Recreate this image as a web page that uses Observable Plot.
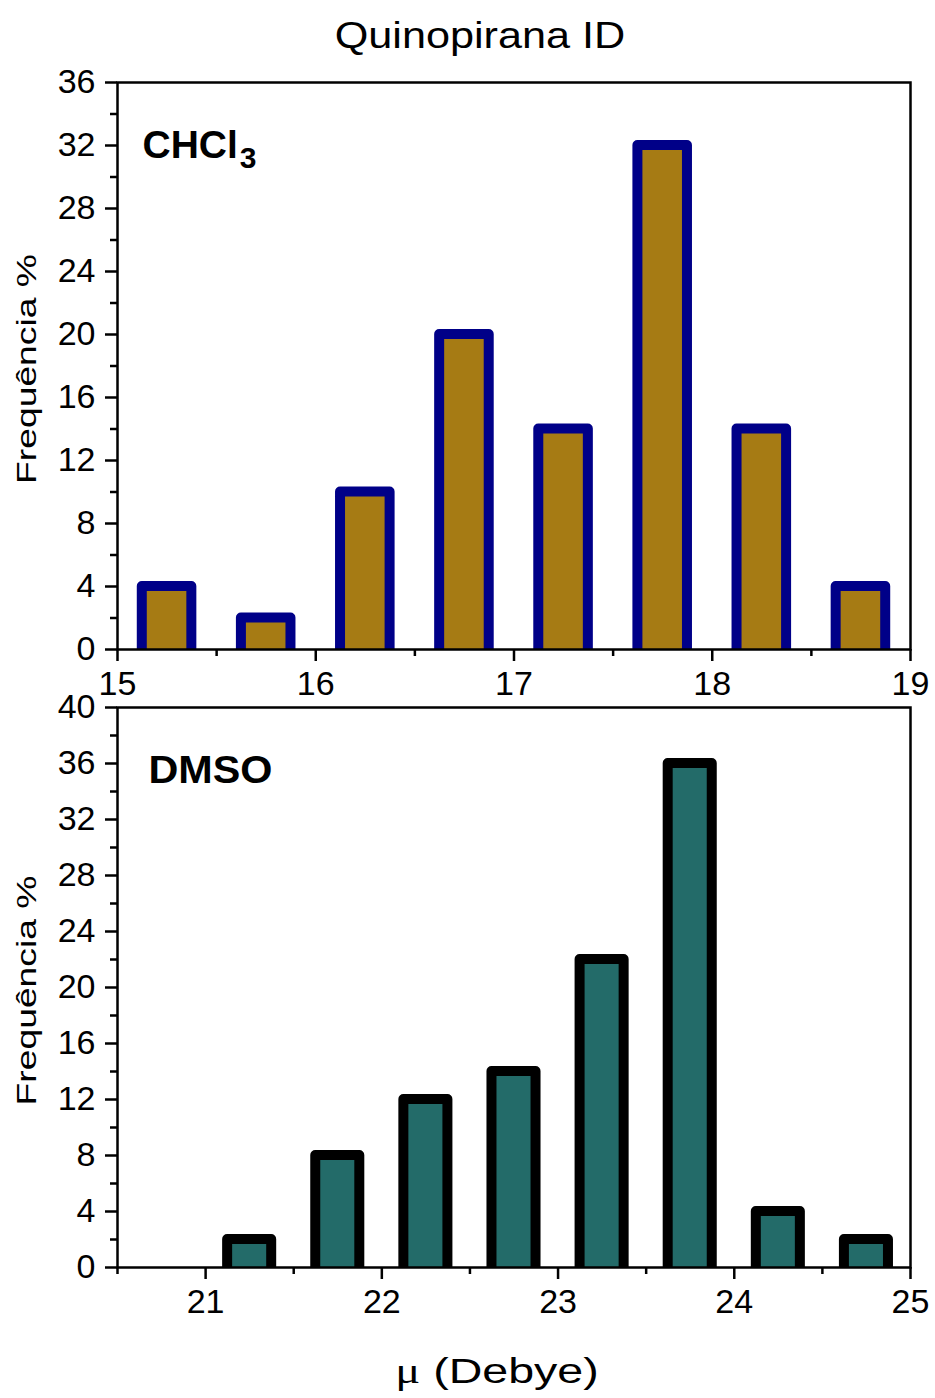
<!DOCTYPE html>
<html>
<head>
<meta charset="utf-8">
<script src="https://cdn.jsdelivr.net/npm/d3@7"></script>
<script src="https://cdn.jsdelivr.net/npm/@observablehq/plot@0.6"></script>
<style>
  html, body { margin: 0; padding: 0; background: #fff; }
  #wrap { position: relative; width: 935px; height: 1398px; overflow: hidden; font-family: "Liberation Sans", Arial, sans-serif; color: #000; }
  #wrap svg { position: absolute; left: 0; }
  .lbl { position: absolute; white-space: nowrap; transform-origin: center; }
  #title { left: 480px; top: 18px; font-size: 36px; line-height: 36px; transform: translateX(-50%) scaleX(1.2); }
  #xlabel { left: 497px; top: 1353px; font-size: 35px; line-height: 35px; transform: translateX(-50%) scaleX(1.33); }
  #xlabel .mu { font-family: "Liberation Serif", "Times New Roman", serif; }
</style>
</head>
<body>
<div id="wrap">
  <div id="title" class="lbl"></div>
  <div id="xlabel" class="lbl"></div>
</div>
<script>
// ---------- data ----------
const chartTitle = "Quinopirana ID";
const yLabel = "Frequência %";
const xLabelSymbol = "μ";
const xLabelText = " (Debye)";

const panelNames = ["CHCl", "DMSO"];
const panelSubscripts = ["3", ""];

const binsTop = [15.25, 15.75, 16.25, 16.75, 17.25, 17.75, 18.25, 18.75];
const freqTop = [4, 2, 10, 20, 14, 32, 14, 4];

const binsBottom = [21.25, 21.75, 22.25, 22.75, 23.25, 23.75, 24.25, 24.75];
const freqBottom = [2, 8, 12, 14, 22, 36, 4, 2];

const xTicksTop = [15, 16, 17, 18, 19];
const xMinorTop = [15.5, 16.5, 17.5, 18.5];
const yTicksTop = [0, 4, 8, 12, 16, 20, 24, 28, 32, 36];
const yMinorTop = [2, 6, 10, 14, 18, 22, 26, 30, 34];

const xTicksBottom = [21, 22, 23, 24, 25];
const xMinorBottom = [20.5, 21.5, 22.5, 23.5, 24.5];
const yTicksBottom = [0, 4, 8, 12, 16, 20, 24, 28, 32, 36, 40];
const yMinorBottom = [2, 6, 10, 14, 18, 22, 26, 30, 34, 38];

// ---------- drawing ----------
const wrap = document.getElementById("wrap");
document.getElementById("title").textContent = chartTitle;
const xl = document.getElementById("xlabel");
const mu = document.createElement("span"); mu.className = "mu"; mu.textContent = xLabelSymbol;
xl.appendChild(mu); xl.appendChild(document.createTextNode(xLabelText));

const intFmt = d => String(d);

function panel(o) {
  const rows = o.bins.map((c, i) => ({c, f: o.freq[i]}));
  const svg = Plot.plot({
    width: 935,
    height: o.height,
    marginLeft: 117,
    marginRight: 25,
    marginTop: o.marginTop,
    marginBottom: o.marginBottom,
    style: {background: "transparent", overflow: "visible", color: "black",
            fontFamily: "'Liberation Sans', Arial, sans-serif"},
    x: {domain: o.xDomain},
    y: {domain: o.yDomain},
    marks: [
      Plot.rectY(rows, {
        x1: d => d.c - 0.125, x2: d => d.c + 0.125, y1: 0, y2: "f",
        fill: o.fill, stroke: o.stroke, strokeWidth: 10, strokeLinejoin: "round",
        insetBottom: -10, clip: true
      }),
      Plot.frame({stroke: "black", strokeWidth: 2.5}),
      Plot.axisX(o.xTicks, {tickSize: 12, tickPadding: 9, fontSize: 34, tickFormat: intFmt, strokeWidth: 2.5, label: null}),
      Plot.axisX(o.xMinor, {tickSize: 7, tickFormat: () => "", strokeWidth: 2.5, label: null}),
      Plot.axisY(o.yTicks, {tickSize: 12, tickPadding: 10, fontSize: 34, tickFormat: intFmt, strokeWidth: 2.5, label: null}),
      Plot.axisY(o.yMinor, {tickSize: 7, tickFormat: () => "", strokeWidth: 2.5, label: null}),
      Plot.text([o.name], {text: d => d, frameAnchor: "top-left", textAnchor: "start", lineAnchor: "top",
        dx: o.nameDx, dy: 48, fontSize: 39, fontWeight: "bold", fill: "black"}),
      Plot.text([yLabel], {text: d => d, frameAnchor: "left", rotate: -90, textAnchor: "start",
        dx: -90, dy: o.yLabelDy, fontSize: 27, fill: "black"})
    ]
  });
  svg.style.top = o.top + "px";
  const sel = d3.select(svg);
  sel.selectAll("text").filter(function() { return this.textContent === yLabel; })
    .attr("textLength", 230).attr("lengthAdjust", "spacingAndGlyphs");
  const nameSel = sel.selectAll("text").filter(function() { return this.textContent === o.name; });
  if (o.nameLength) nameSel.attr("textLength", o.nameLength).attr("lengthAdjust", "spacingAndGlyphs");
  if (o.sub) nameSel.append("tspan").attr("dx", 2).attr("dy", 10).attr("font-size", 30).text(o.sub);
  wrap.appendChild(svg);
}

panel({
  bins: binsTop, freq: freqTop, xDomain: [15, 19], yDomain: [0, 36],
  xTicks: xTicksTop, xMinor: xMinorTop, yTicks: yTicksTop, yMinor: yMinorTop,
  fill: "#A67B14", stroke: "#000088", name: panelNames[0], sub: panelSubscripts[0], nameDx: 25,
  top: 0, height: 700, marginTop: 82, marginBottom: 51, yLabelDy: 118
});
panel({
  bins: binsBottom, freq: freqBottom, xDomain: [20.5, 25], yDomain: [0, 40],
  xTicks: xTicksBottom, xMinor: xMinorBottom, yTicks: yTicksBottom, yMinor: yMinorBottom,
  fill: "#236B69", stroke: "#000000", name: panelNames[1], sub: panelSubscripts[1], nameDx: 31, nameLength: 124,
  top: 680, height: 718, marginTop: 27, marginBottom: 131, yLabelDy: 118
});
</script>
</body>
</html>
